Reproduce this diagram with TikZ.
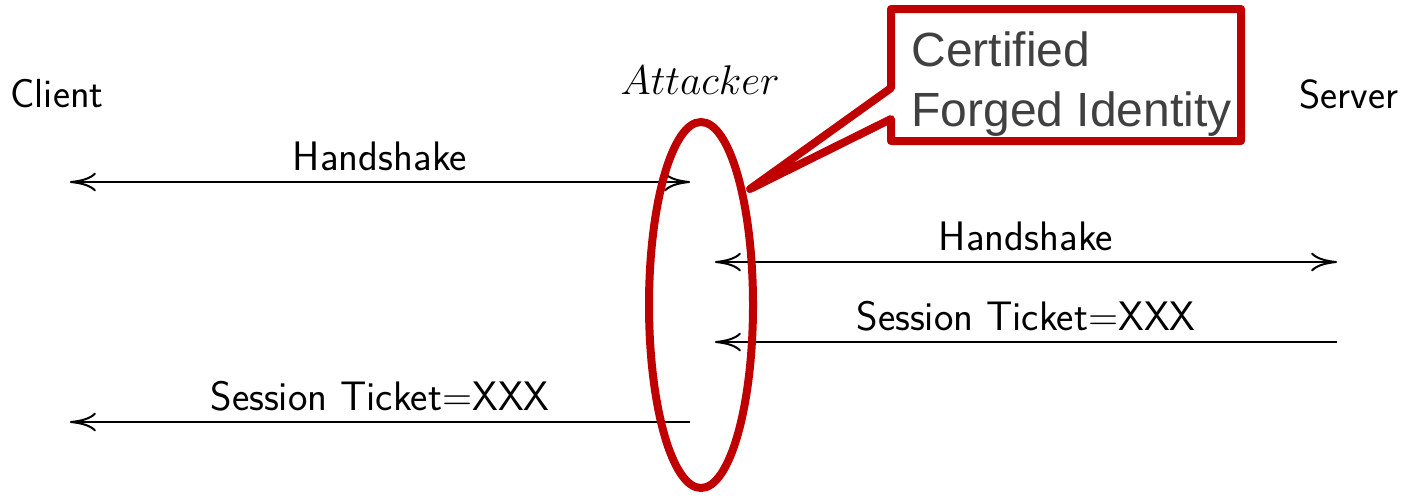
\documentclass[tikz,border=0pt]{standalone}
\usepackage{fontspec}
\newfontfamily\calloutfont{Liberation Sans}
\usetikzlibrary{arrows.meta,shapes.geometric}
\definecolor{calred}{RGB}{192,0,0}
\definecolor{calgray}{RGB}{64,64,64}
\begin{document}
\begin{tikzpicture}[x=0.5pt,y=-0.5pt,
  lbl/.style={font=\sffamily\fontsize{20.3}{24}\selectfont, inner sep=0pt},
  msg/.style={line width=1pt, >={Computer Modern Rightarrow[length=13pt,width=9.5pt]}},
  msglbl/.style={font=\sffamily\fontsize{20.6}{24}\selectfont, inner sep=0pt, anchor=base, yshift=6pt},
  redline/.style={draw=calred, line width=4pt}]
\useasboundingbox (0,0) rectangle (1406,495);

% parties
\node[lbl] (client) at (57,94) {Client};
\node[lbl] (server) at (1349,94) {Server};
\node[lbl, font=\fontsize{21.3}{25}\selectfont] (attacker) at (700,80) {$Attacker$};

% message end points
\coordinate (c1) at (70,182);  \coordinate (a1) at (690,182);
\coordinate (a2) at (715,262); \coordinate (s2) at (1337,262);
\coordinate (a3) at (715,342); \coordinate (s3) at (1337,342);
\coordinate (c4) at (70,422);  \coordinate (a4) at (690,422);

% messages
\draw[msg,<->] (c1) -- node[msglbl] {Handshake} (a1);
\draw[msg,<->] (a2) -- node[msglbl] {Handshake} (s2);
\draw[msg,->] (s3) -- node[msglbl] {Session Ticket=XXX} (a3);
\draw[msg,->] (a4) -- node[msglbl] {Session Ticket=XXX} (c4);

% attacker ring
\node[redline, ellipse, inner sep=0pt, minimum width=52pt, minimum height=183pt] (ring) at (701,305) {};

% callout
\coordinate (tip) at (750,189);
\draw[redline, fill=white, line join=round]
  (891,9) -- (1241,9) -- (1241,141) -- (891,141) -- (891,119) -- (tip) -- (891,88) -- cycle;
\node[font=\calloutfont\fontsize{24}{30}\selectfont, text=calgray, align=left,
      anchor=base west, inner sep=0pt] (note) at (911,126) {Certified\\Forged Identity};
\end{tikzpicture}
\end{document}
